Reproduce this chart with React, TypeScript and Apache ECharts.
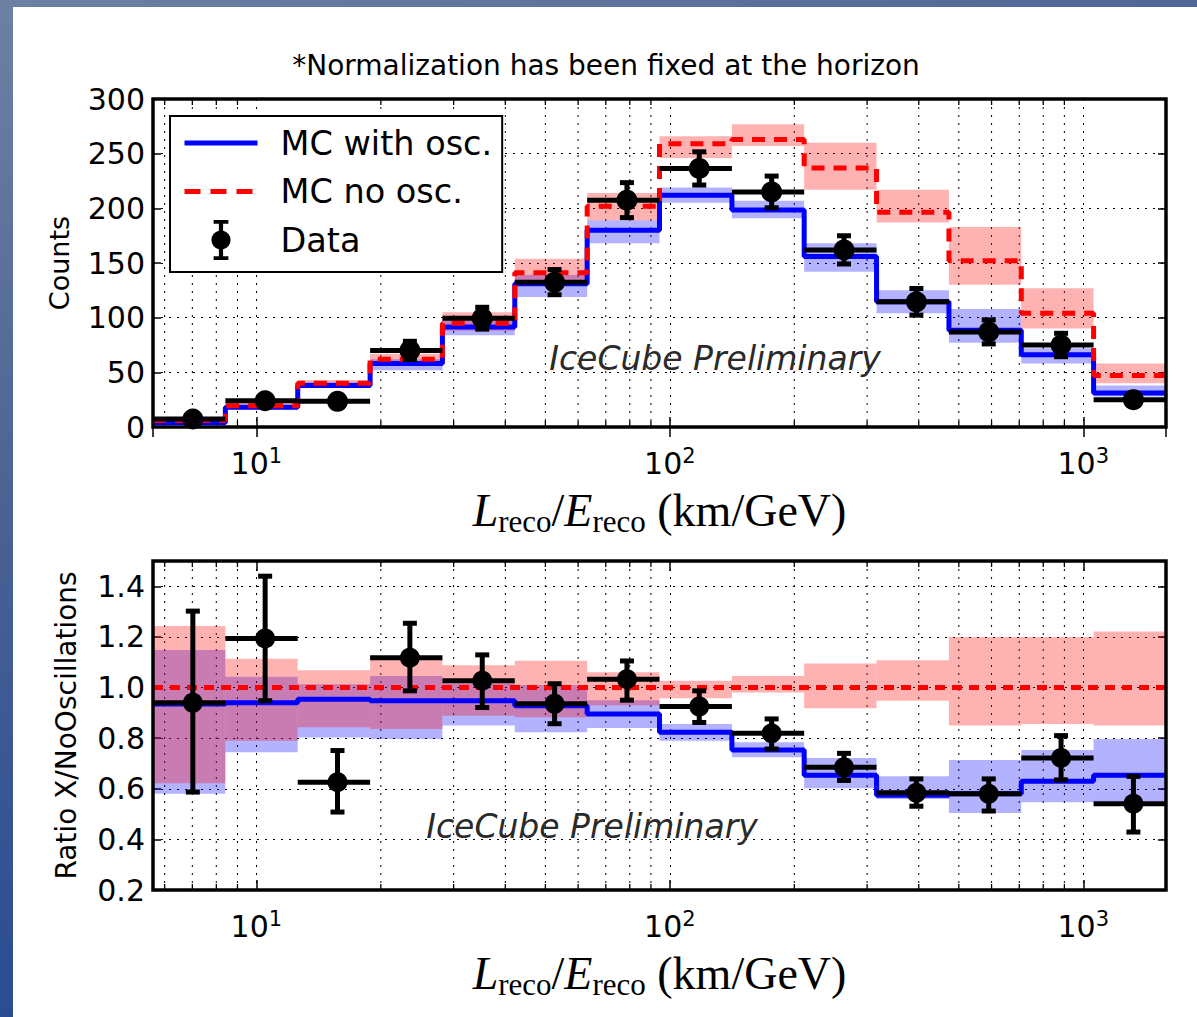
import React, { useEffect, useRef } from "react";
import * as echarts from "echarts";

// Logarithmic L/E binning (km/GeV): 14 bins, edges and arithmetic centres
const binEdges = [5.623, 8.414, 12.59, 18.84, 28.18, 42.17, 63.1, 94.41, 141.3, 211.3, 316.2, 473.2, 708.0, 1059, 1585];
const binCenters = [7.02, 10.5, 15.71, 23.51, 35.18, 52.63, 78.75, 117.8, 176.3, 263.8, 394.7, 590.6, 883.6, 1322];
const minorTicks = [6, 7, 8, 9, 20, 30, 40, 50, 60, 70, 80, 90, 200, 300, 400, 500, 600, 700, 800, 900];

// Upper panel: counts per bin
const mcOsc = [4, 18, 38, 58, 91.5, 131, 180, 212, 198.5, 156, 114.5, 88.5, 66, 31];
const mcOscLo = [2, 16, 36, 52, 84, 119, 168, 205, 191, 142, 104, 77, 58, 28];
const mcOscHi = [6, 20, 41, 62, 98, 139, 189, 219, 207, 168, 125, 108, 72, 38];
const mcNoOsc = [6, 19.5, 40, 62, 95, 141, 202, 259, 263, 237, 196.5, 152, 104, 47];
const mcNoOscLo = [4, 17, 37, 57, 88, 134, 189, 246, 257, 217, 187, 130, 90, 40];
const mcNoOscHi = [8, 23, 43, 67, 105, 154, 214, 266, 277, 260, 217, 183, 127, 58];
const dataCounts = [7.3, 24, 23.5, 70, 99.5, 132.5, 207.5, 236.5, 215, 162, 114.5, 87, 75, 25];
const dataErr = [2.7, 4.9, 4.9, 8.4, 10, 11.5, 16, 15.2, 14.5, 12.9, 12.2, 11, 10.7, 5];

// Lower panel: ratios to the no-oscillation expectation
const ratioOsc = [0.935, 0.94, 0.954, 0.948, 0.948, 0.928, 0.895, 0.823, 0.753, 0.653, 0.574, 0.58, 0.63, 0.653];
const ratioOscLo = [0.58, 0.744, 0.803, 0.797, 0.85, 0.823, 0.84, 0.79, 0.725, 0.602, 0.56, 0.504, 0.547, 0.543];
const ratioOscHi = [1.148, 1.043, 1.013, 1.046, 1.016, 1.01, 0.95, 0.856, 0.784, 0.722, 0.649, 0.714, 0.753, 0.797];
const ratioNoOsc = [1, 1, 1, 1, 1, 1, 1, 1, 1, 1, 1, 1, 1, 1];
const ratioNoOscLo = [0.622, 0.79, 0.843, 0.836, 0.889, 0.883, 0.93, 0.958, 0.98, 0.918, 0.948, 0.85, 0.856, 0.85];
const ratioNoOscHi = [1.243, 1.114, 1.068, 1.125, 1.088, 1.106, 1.06, 1.027, 1.046, 1.095, 1.108, 1.2, 1.2, 1.221];
const ratioData = [0.94, 1.194, 0.626, 1.118, 1.027, 0.936, 1.033, 0.925, 0.819, 0.685, 0.584, 0.58, 0.722, 0.541];
const ratioDataLo = [0.587, 0.948, 0.508, 0.987, 0.921, 0.857, 0.95, 0.862, 0.757, 0.633, 0.531, 0.512, 0.635, 0.429];
const ratioDataHi = [1.302, 1.44, 0.751, 1.254, 1.129, 1.015, 1.105, 0.987, 0.876, 0.74, 0.639, 0.639, 0.81, 0.649];

const SANS = '"DejaVu Sans", sans-serif';
const SERIF = '"Liberation Serif", "DejaVu Serif", serif';

const X_MIN = 5.623;
const X_MAX = 1585;
const countsRange = { min: 0, max: 300, interval: 50 };
const ratioRange = { min: 0.2, max: 1.5, interval: 0.2 };

const DOT = [2, 6];
const BLUE = "#0000ff";
const RED = "#ff0000";
const BLUE_BAND = "rgba(0,0,255,0.3)";
const RED_BAND = "rgba(255,0,0,0.3)";

const DATA_ICON =
  "path://M3,0H17V3.5H12V10.2A9,9 0 0 1 12,27.8V34.5H17V38H3V34.5H8V27.8A9,9 0 0 1 8,10.2V3.5H3Z";

const powerLabel = (v: number) => {
  const p = Math.log10(v);
  const r = Math.round(p);
  return Math.abs(p - r) < 1e-6 ? `{b|10}{s|${r}}` : "";
};

const tickRich = {
  b: { fontSize: 30, fontFamily: SANS, color: "#000", lineHeight: 36 },
  s: { fontSize: 21, fontFamily: SANS, color: "#000", lineHeight: 18, verticalAlign: "top" },
};

const X_NAME = "{i|L}{s|reco}{r|/}{i|E}{s|reco}{r| (km/GeV)}";
const xNameRich = {
  i: { fontFamily: SERIF, fontStyle: "italic", fontSize: 46, lineHeight: 54, color: "#000" },
  s: { fontFamily: SERIF, fontSize: 31, lineHeight: 24, verticalAlign: "bottom", color: "#000" },
  r: { fontFamily: SERIF, fontSize: 46, lineHeight: 54, color: "#000" },
};

const tickLine = { color: "#000", width: 1.5 };

function xAxesFor(gridIndex: number) {
  const base = { type: "log", logBase: 10, min: X_MIN, max: X_MAX, gridIndex };
  return [
    {
      ...base,
      position: "bottom",
      axisLine: { show: false },
      axisTick: { show: true, inside: true, length: 10, lineStyle: tickLine },
      axisLabel: {
        formatter: powerLabel,
        rich: tickRich,
        margin: 18,
        interval: 0,
        showMinLabel: false,
        showMaxLabel: false,
      },
      splitLine: { show: true, lineStyle: { color: "#000", width: 1, type: DOT } },
      name: X_NAME,
      nameLocation: "middle",
      nameGap: 56,
      nameTextStyle: { rich: xNameRich },
    },
    {
      ...base,
      position: "top",
      axisLine: { show: false },
      axisTick: { show: true, inside: true, length: 10, lineStyle: tickLine },
      axisLabel: { show: false },
      splitLine: { show: false },
    },
  ];
}

function yAxesFor(gridIndex: number, range: any, name: string, nameGap: number, nameSize: number, fmt: any) {
  return [
    {
      type: "value",
      gridIndex,
      ...range,
      position: "left",
      axisLine: { show: false },
      axisTick: { show: true, inside: true, length: 8, lineStyle: tickLine },
      axisLabel: { color: "#000", fontSize: 30, fontFamily: SANS, margin: 8, formatter: fmt },
      splitLine: { show: true, lineStyle: { color: "#000", width: 1, type: DOT } },
      name,
      nameLocation: "middle",
      nameRotate: 90,
      nameGap,
      nameTextStyle: { color: "#000", fontSize: nameSize, fontFamily: SANS },
    },
    {
      type: "value",
      gridIndex,
      ...range,
      position: "right",
      axisLine: { show: false },
      axisTick: { show: true, inside: true, length: 8, lineStyle: tickLine },
      axisLabel: { show: false },
      splitLine: { show: false },
    },
  ];
}

const stepPoints = (vals: number[]) => binEdges.map((e, i) => [e, vals[Math.min(i, vals.length - 1)]]);
const bandItems = (lo: number[], hi: number[]) => lo.map((l, i) => [binEdges[i], binEdges[i + 1], l, hi[i]]);
const barItems = (vals: number[], lo: number[], hi: number[]) =>
  vals.map((v, i) => [binCenters[i], v, lo[i], hi[i], binEdges[i], binEdges[i + 1]]);

const renderBand = (fill: string) => (_params: any, api: any) => {
  const a = api.coord([api.value(0), api.value(3)]);
  const b = api.coord([api.value(1), api.value(2)]);
  return {
    type: "rect",
    shape: { x: a[0], y: a[1], width: b[0] - a[0], height: b[1] - a[1] },
    style: { fill },
  };
};

const renderErrorBar = (capHalf: number, r: number, lw: number) => (_params: any, api: any) => {
  const c = api.coord([api.value(0), api.value(1)]);
  const lo = api.coord([api.value(0), api.value(2)]);
  const hi = api.coord([api.value(0), api.value(3)]);
  const left = api.coord([api.value(4), api.value(1)]);
  const right = api.coord([api.value(5), api.value(1)]);
  const st = { stroke: "#000", lineWidth: lw };
  return {
    type: "group",
    children: [
      { type: "line", shape: { x1: left[0], y1: c[1], x2: right[0], y2: c[1] }, style: st },
      { type: "line", shape: { x1: c[0], y1: lo[1], x2: c[0], y2: hi[1] }, style: st },
      { type: "line", shape: { x1: c[0] - capHalf, y1: lo[1], x2: c[0] + capHalf, y2: lo[1] }, style: st },
      { type: "line", shape: { x1: c[0] - capHalf, y1: hi[1], x2: c[0] + capHalf, y2: hi[1] }, style: st },
      { type: "circle", shape: { cx: c[0], cy: c[1], r }, style: { fill: "#000" } },
    ],
  };
};

// dotted grid at the minor decades plus inward minor ticks on both x spines
const renderMinor = (params: any, api: any) => {
  const cs = params.coordSys;
  const x = api.coord([api.value(0), api.value(1)])[0];
  const top = cs.y;
  const bottom = cs.y + cs.height;
  return {
    type: "group",
    children: [
      { type: "line", shape: { x1: x, y1: top, x2: x, y2: bottom }, style: { stroke: "#000", lineWidth: 1, lineDash: DOT } },
      { type: "line", shape: { x1: x, y1: bottom, x2: x, y2: bottom - 6 }, style: { stroke: "#000", lineWidth: 1.3 } },
      { type: "line", shape: { x1: x, y1: top, x2: x, y2: top + 6 }, style: { stroke: "#000", lineWidth: 1.3 } },
    ],
  };
};

const renderFrame = (params: any) => {
  const cs = params.coordSys;
  return {
    type: "rect",
    shape: { x: cs.x, y: cs.y, width: cs.width, height: cs.height },
    style: { fill: "none", stroke: "#000", lineWidth: 3.5 },
  };
};

function panelSeries(
  p: number,
  yRef: number,
  names: [string, string, string],
  osc: number[],
  oscLo: number[],
  oscHi: number[],
  noOsc: number[],
  noLo: number[],
  noHi: number[],
  dat: number[],
  datLo: number[],
  datHi: number[],
  dash: number[],
  mark: { cap: number; r: number; lw: number }
) {
  const axes = { xAxisIndex: p * 2, yAxisIndex: p * 2 };
  return [
    {
      type: "custom",
      name: `minor-grid-${p}`,
      ...axes,
      silent: true,
      z: 1,
      renderItem: renderMinor,
      encode: { x: 0, y: 1 },
      data: minorTicks.map((v) => [v, yRef]),
    },
    {
      type: "custom",
      name: `${names[0]} band`,
      ...axes,
      silent: true,
      z: 2,
      renderItem: renderBand(BLUE_BAND),
      encode: { x: [0, 1], y: [2, 3] },
      data: bandItems(oscLo, oscHi),
    },
    {
      type: "custom",
      name: `${names[1]} band`,
      ...axes,
      silent: true,
      z: 2,
      renderItem: renderBand(RED_BAND),
      encode: { x: [0, 1], y: [2, 3] },
      data: bandItems(noLo, noHi),
    },
    {
      type: "line",
      name: names[0],
      ...axes,
      z: 3,
      step: "end",
      symbol: "none",
      data: stepPoints(osc),
      lineStyle: { color: BLUE, width: 5 },
      itemStyle: { color: BLUE },
    },
    {
      type: "line",
      name: names[1],
      ...axes,
      z: 4,
      step: "end",
      symbol: "none",
      data: stepPoints(noOsc),
      lineStyle: { color: RED, width: 5, type: dash },
      itemStyle: { color: RED },
    },
    {
      type: "custom",
      name: names[2],
      ...axes,
      z: 5,
      renderItem: renderErrorBar(mark.cap, mark.r, mark.lw),
      encode: { x: [0, 4, 5], y: [1, 2, 3] },
      itemStyle: { color: "#000" },
      data: barItems(dat, datLo, datHi),
    },
    {
      type: "custom",
      name: `frame-${p}`,
      ...axes,
      silent: true,
      z: 10,
      renderItem: renderFrame,
      encode: { x: 0, y: 1 },
      data: [[10, yRef]],
    },
  ];
}

const option: any = {
  animation: false,
  textStyle: { fontFamily: SANS },
  grid: [
    { left: 153, top: 99, width: 1013, height: 328 },
    { left: 153, top: 561, width: 1013, height: 329 },
  ],
  xAxis: [...xAxesFor(0), ...xAxesFor(1)],
  yAxis: [
    ...yAxesFor(0, countsRange, "Counts", 80, 27, (v: number) => String(v)),
    ...yAxesFor(1, ratioRange, "Ratio X/NoOscillations", 73, 28, (v: number) => (v > 1.45 ? "" : v.toFixed(1))),
  ],
  legend: {
    left: 170,
    top: 116,
    orient: "vertical",
    backgroundColor: "#fff",
    borderColor: "#000",
    borderWidth: 2,
    borderRadius: 0,
    padding: [7, 10, 12, 12],
    itemGap: 8.5,
    itemWidth: 73,
    itemHeight: 40,
    selectedMode: false,
    textStyle: { fontSize: 33.5, fontFamily: SANS, color: "#000", padding: [0, 0, 0, 18], lineHeight: 40 },
    data: [
      { name: "MC with osc.", itemStyle: { opacity: 0 }, lineStyle: { color: BLUE, width: 5 } },
      { name: "MC no osc.", itemStyle: { opacity: 0 }, lineStyle: { color: RED, width: 5, type: [16, 10] } },
      { name: "Data", icon: DATA_ICON, itemStyle: { color: "#000" } },
    ],
  },
  graphic: [
    {
      type: "text",
      x: 606,
      y: 65,
      z: 20,
      style: {
        text: "*Normalization has been fixed at the horizon",
        fill: "#000",
        fontSize: 28,
        fontFamily: SANS,
        align: "center",
        verticalAlign: "middle",
      },
    },
    {
      type: "text",
      x: 715,
      y: 358,
      z: 20,
      style: {
        text: "IceCube Preliminary",
        fill: "#2a2a2a",
        fontSize: 33,
        fontFamily: SANS,
        fontStyle: "italic",
        align: "center",
        verticalAlign: "middle",
      },
    },
    {
      type: "text",
      x: 592,
      y: 826,
      z: 20,
      style: {
        text: "IceCube Preliminary",
        fill: "#2a2a2a",
        fontSize: 33,
        fontFamily: SANS,
        fontStyle: "italic",
        align: "center",
        verticalAlign: "middle",
      },
    },
  ],
  series: [
    ...panelSeries(
      0,
      150,
      ["MC with osc.", "MC no osc.", "Data"],
      mcOsc,
      mcOscLo,
      mcOscHi,
      mcNoOsc,
      mcNoOscLo,
      mcNoOscHi,
      dataCounts,
      dataCounts.map((v, i) => v - dataErr[i]),
      dataCounts.map((v, i) => v + dataErr[i]),
      [13, 9],
      { cap: 7, r: 10.5, lw: 5 }
    ),
    ...panelSeries(
      1,
      0.8,
      ["Ratio with osc.", "Ratio no osc.", "Ratio data"],
      ratioOsc,
      ratioOscLo,
      ratioOscHi,
      ratioNoOsc,
      ratioNoOscLo,
      ratioNoOscHi,
      ratioData,
      ratioDataLo,
      ratioDataHi,
      [10, 7],
      { cap: 7, r: 10, lw: 5 }
    ),
  ],
};

export default function App() {
  const ref = useRef<HTMLDivElement>(null);
  useEffect(() => {
    if (!ref.current) return;
    const chart = echarts.init(ref.current, null, { renderer: "svg" });
    chart.setOption(option);
    return () => chart.dispose();
  }, []);
  return (
    <div
      style={{
        position: "absolute",
        left: 0,
        top: 0,
        width: 1197,
        height: 1017,
        overflow: "hidden",
        background: "linear-gradient(160deg, #6d81a2 0%, #4a6394 35%, #2b4c94 70%, #1d3c82 100%)",
      }}
    >
      <div style={{ position: "absolute", left: 13, top: 7, right: 0, bottom: 0, background: "#fff" }} />
      <div ref={ref} style={{ position: "absolute", left: 0, top: 0, width: 1197, height: 1017 }} />
    </div>
  );
}
